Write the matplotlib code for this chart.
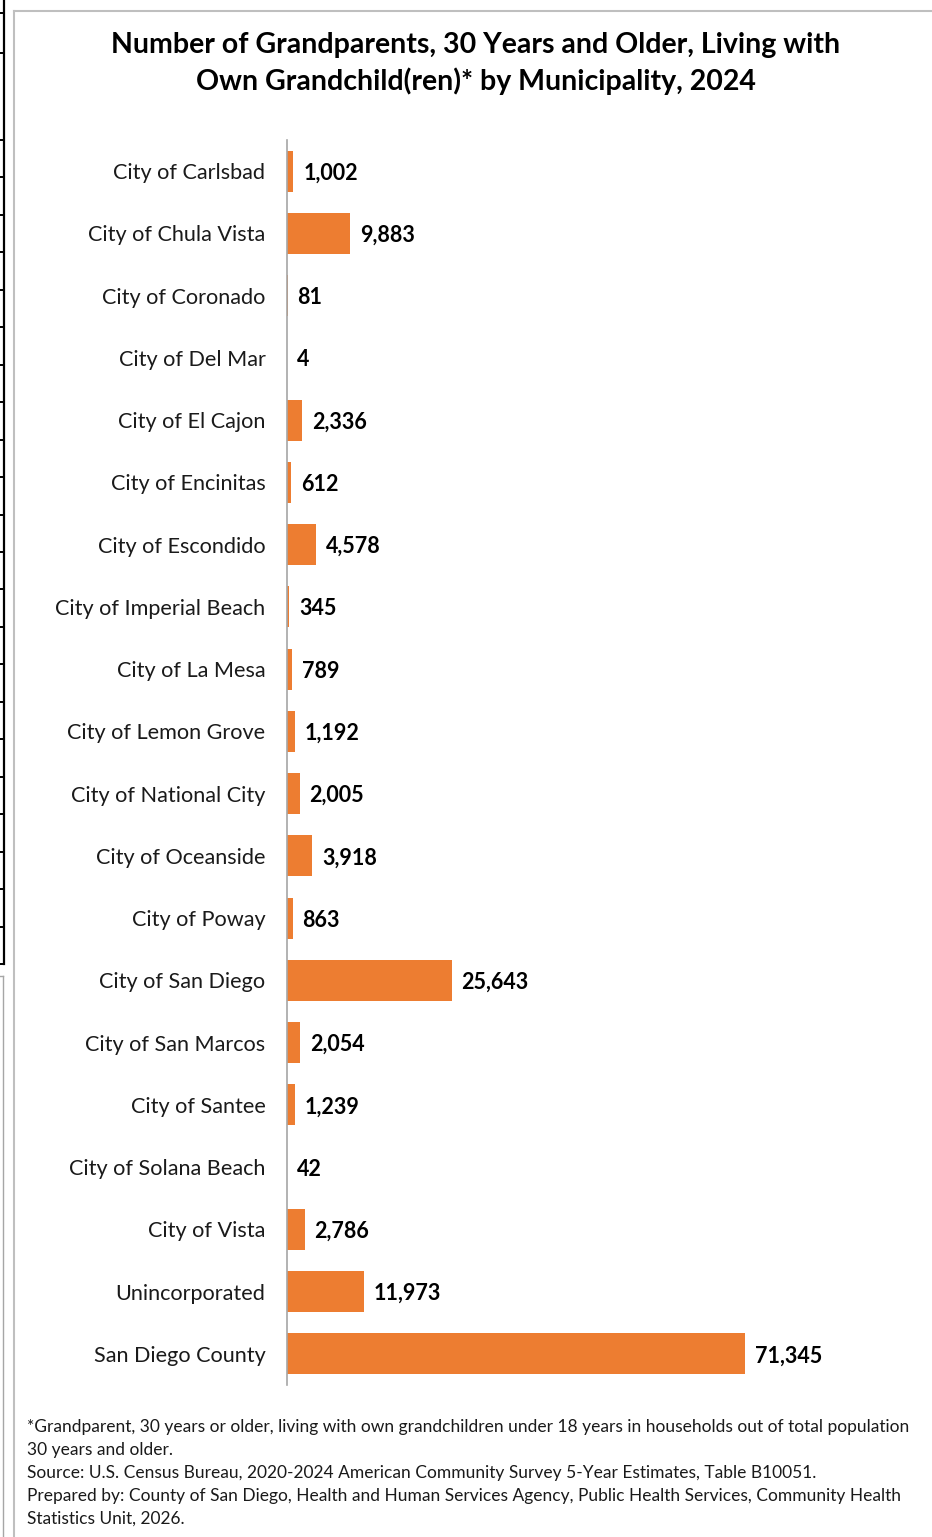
import numpy as np
import matplotlib.pyplot as plt
from matplotlib.lines import Line2D

# Grandparents 30+ living with own grandchildren, 2024
municipalities = [
    "City of Carlsbad", "City of Chula Vista", "City of Coronado", "City of Del Mar",
    "City of El Cajon", "City of Encinitas", "City of Escondido", "City of Imperial Beach",
    "City of La Mesa", "City of Lemon Grove", "City of National City", "City of Oceanside",
    "City of Poway", "City of San Diego", "City of San Marcos", "City of Santee",
    "City of Solana Beach", "City of Vista", "Unincorporated", "San Diego County",
]
grandparents = [
    1002, 9883, 81, 4, 2336, 612, 4578, 345, 789, 1192,
    2005, 3918, 863, 25643, 2054, 1239, 42, 2786, 11973, 71345,
]

title = ("Number of Grandparents, 30 Years and Older, Living with\n"
         "Own Grandchild(ren)* by Municipality, 2024")
footnote = [
    "*Grandparent, 30 years or older, living with own grandchildren under 18 years in households out of total population",
    "30 years and older.",
    "Source: U.S. Census Bureau, 2020-2024 American Community Survey 5-Year Estimates, Table B10051.",
    "Prepared by: County of San Diego, Health and Human Services Agency, Public Health Services, Community Health",
    "Statistics Unit, 2026.",
]

W, H = 932, 1537
plt.rcParams['font.family'] = ['Lato', 'DejaVu Sans']
fig = plt.figure(figsize=(W / 100, H / 100), dpi=100)


def fx(px):
    return px / W


def fy(py):
    return 1 - py / H


# chart frame
fig.add_artist(Line2D([fx(14), fx(14)], [fy(11), 0], color='#bfbfbf', lw=1.5))
fig.add_artist(Line2D([fx(14), 1], [fy(11), fy(11)], color='#bfbfbf', lw=1.5))

# neighbouring table edge on the far left
fig.add_artist(Line2D([fx(4), fx(4)], [1, fy(964)], color='black', lw=1.6))
rows = [13, 53] + list(np.linspace(140, 964, 23))
for r in rows:
    fig.add_artist(Line2D([0, fx(4)], [fy(r), fy(r)], color='black', lw=1.4))
fig.add_artist(Line2D([0, fx(3)], [fy(976), fy(976)], color='#a6a6a6', lw=1))
fig.add_artist(Line2D([fx(3), fx(3)], [fy(976), 0], color='#a6a6a6', lw=1))

ax = fig.add_axes([fx(287), fy(1385), fx(910) - fx(287), (1385 - 140) / H])
y = np.arange(len(municipalities))
ax.barh(y, grandparents, height=0.66, color='#ed7d31')
ax.set_xlim(0, 97000)
ax.set_ylim(len(municipalities) - 0.5, -0.5)
ax.set_yticks(y)
ax.set_yticklabels(municipalities, fontsize=15.6, color='#1a1a1a')
ax.tick_params(axis='y', length=0, pad=15.5)
ax.set_xticks([])
for side in ['top', 'right', 'bottom']:
    ax.spines[side].set_visible(False)
ax.spines['left'].set_color('#a6a6a6')
ax.spines['left'].set_linewidth(1.2)

for yi, v in zip(y, grandparents):
    ax.annotate(f"{v:,}", (v, yi), xytext=(7, 0), textcoords='offset points',
                va='center_baseline', ha='left', fontsize=15.5, fontweight='bold',
                color='black')

fig.text(fx(476), fy(63.5), title, ha='center', va='center', fontsize=20.5,
         fontweight='bold', linespacing=1.38)

for i, line in enumerate(footnote):
    fig.text(fx(27), fy(1427 + 23 * i), line, ha='left', va='center', fontsize=12.55,
             color='#1a1a1a')

fig.savefig('out.png', dpi=100)
